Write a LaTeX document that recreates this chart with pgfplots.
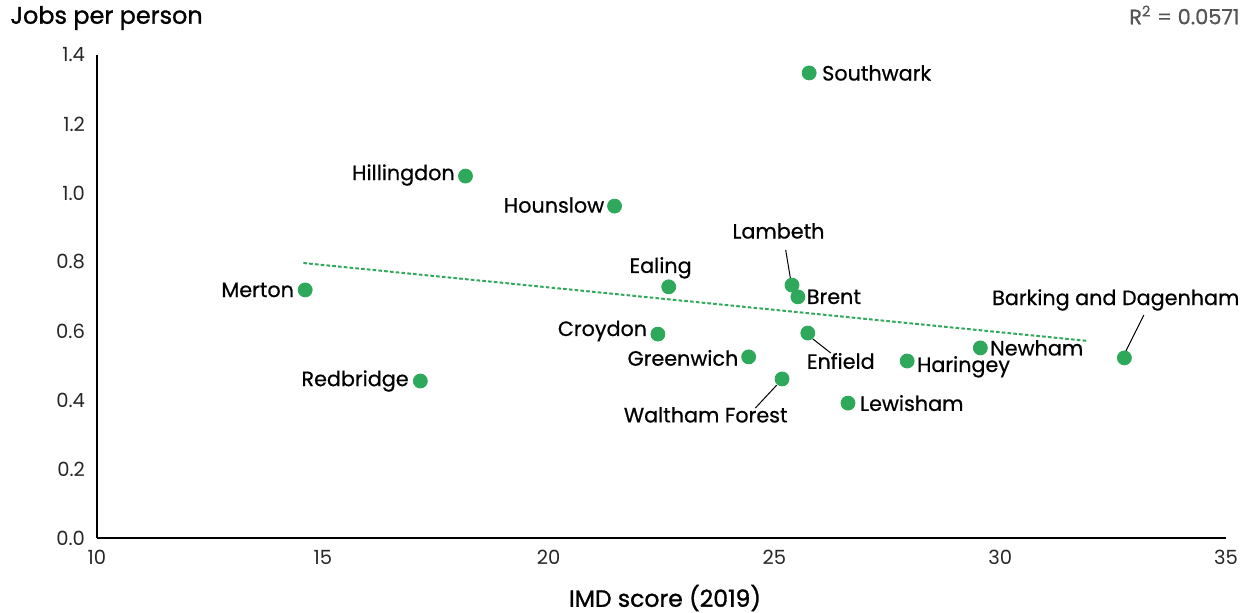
\documentclass[border=0pt]{standalone}
\usepackage{fontspec}
\setmainfont{Poppins}
\newfontfamily\medfont{Poppins}[FakeBold=0.6]
\newfontfamily\semifont{Poppins}[FakeBold=1.2]
\usepackage{pgfplots}
\pgfplotsset{compat=1.18}
\definecolor{pg}{RGB}{46,168,90}
\definecolor{rg}{RGB}{85,85,85}
\begin{document}
\begin{tikzpicture}
\begin{axis}[
  scale only axis, width=564.5bp, height=241.5bp,
  xmin=10, xmax=35, ymin=0, ymax=1.4,
  axis x line*=bottom, axis y line*=left,
  axis line style={line width=1.2bp, -},
  xtick={10,15,...,35}, ytick={0,0.2,...,1.4},
  major tick length=0pt,
  /pgf/number format/assume math mode=true,
  yticklabel style={/pgf/number format/fixed, /pgf/number format/fixed zerofill, /pgf/number format/precision=1, xshift=-2.5bp},
  ticklabel style={font=\fontsize{9.8}{11}\selectfont, text=black!85},
  xticklabel style={yshift=-2.5bp},
  clip=false,
]
\addplot[only marks, mark=*, mark size=3.5bp, pg, mark options={draw=pg, fill=pg}] coordinates {
(25.77,1.348) (18.16,1.049) (21.46,0.962) (25.39,0.733) (25.52,0.699)
(22.66,0.728) (14.61,0.719) (22.42,0.591) (25.74,0.594) (24.43,0.525)
(17.16,0.455) (25.17,0.461) (26.63,0.391) (27.94,0.513) (29.56,0.551)
(32.75,0.522)
};
\addplot[pg, line width=1bp, dash pattern=on 1.8bp off 1.1bp] coordinates {(14.57,0.797) (31.95,0.571)};
\begin{scope}[every node/.style={font=\medfont\fontsize{10.4}{12}\selectfont, inner sep=0pt}]
\node[anchor=west] at (axis cs:26.05,1.348) {Southwark};
\node[anchor=east] at (axis cs:17.93,1.052) {Hillingdon};
\node[anchor=east] at (axis cs:21.24,0.965) {Hounslow};
\node at (axis cs:25.09,0.890) {Lambeth};
\node[anchor=west] at (axis cs:25.71,0.699) {Brent};
\node at (axis cs:22.48,0.783) {Ealing};
\node[anchor=east] at (axis cs:14.37,0.719) {Merton};
\node[anchor=east] at (axis cs:22.19,0.600) {Croydon};
\node at (axis cs:26.47,0.513) {Enfield};
\node[anchor=east] at (axis cs:24.21,0.522) {Greenwich};
\node[anchor=east] at (axis cs:16.91,0.455) {Redbridge};
\node at (axis cs:23.48,0.357) {Waltham Forest};
\node[anchor=west] at (axis cs:26.89,0.391) {Lewisham};
\node[anchor=west] at (axis cs:28.15,0.496) {Haringey};
\node[anchor=west] at (axis cs:29.77,0.551) {Newham};
\node at (axis cs:32.56,0.690) {Barking and Dagenham};
\end{scope}
\draw[black, line width=0.5bp] (axis cs:25.25,0.835) -- (axis cs:25.36,0.748);
\draw[black, line width=0.5bp] (axis cs:25.85,0.577) -- (axis cs:26.25,0.536);
\draw[black, line width=0.5bp] (axis cs:25.05,0.443) -- (axis cs:24.58,0.377);
\draw[black, line width=0.5bp] (axis cs:33.18,0.646) -- (axis cs:32.76,0.536);
\end{axis}
\node[anchor=west, font=\semifont\fontsize{12}{14}\selectfont, inner sep=0pt] at (-43.5bp,260bp) {Jobs per person};
\node[font=\semifont\fontsize{11.8}{14}\selectfont] at (284bp,-30bp) {IMD score (2019)};
\node[anchor=east, text=rg, font=\medfont\fontsize{10.5}{12}\selectfont, inner sep=0pt] at (571.5bp,261.5bp) {R\textsuperscript{2} = 0.0571};
\pgfresetboundingbox
\path (-48.5bp,-37.5bp) rectangle (577bp,269bp);
\end{tikzpicture}
\end{document}
